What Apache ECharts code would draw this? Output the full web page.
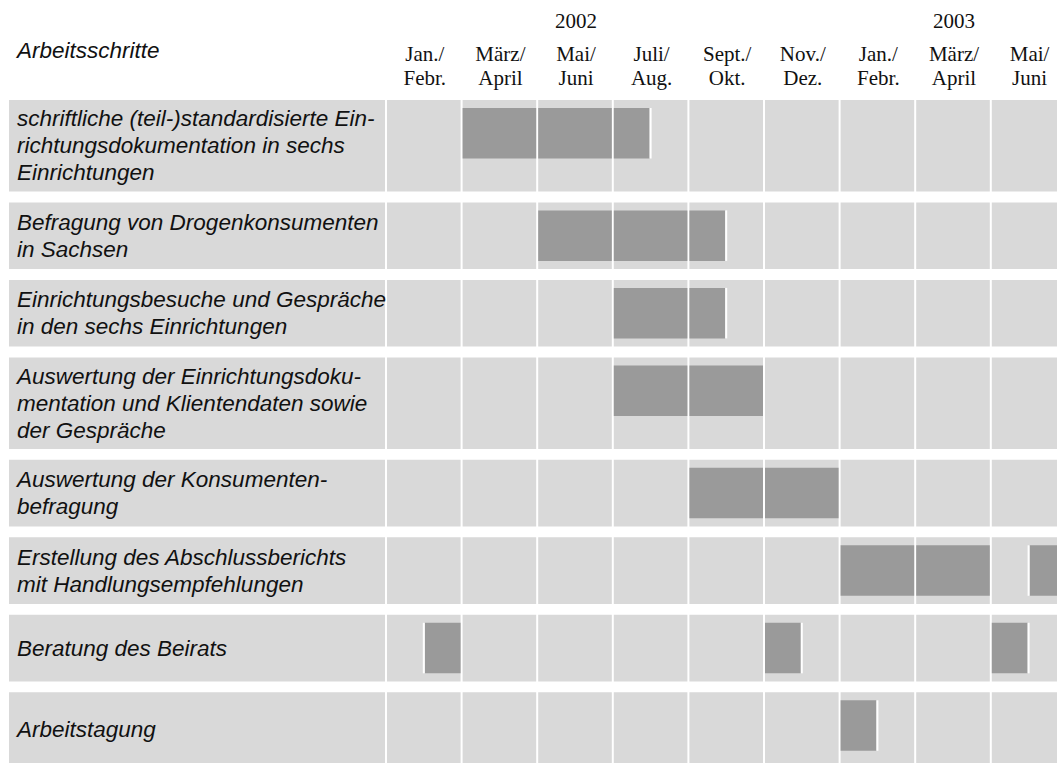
<!DOCTYPE html>
<html>
<head>
<meta charset="utf-8">
<script src="https://cdn.jsdelivr.net/npm/echarts@6/dist/echarts.min.js"></script>
<style>
html,body{margin:0;padding:0;background:#ffffff;}
#chart{width:1057px;height:763px;}
</style>
</head>
<body>
<div id="chart"></div>
<script>
// ---------- data ----------
const tasks = [
  'schriftliche (teil-)standardisierte Ein-\nrichtungsdokumentation in sechs\nEinrichtungen',
  'Befragung von Drogenkonsumenten\nin Sachsen',
  'Einrichtungsbesuche und Gespräche\nin den sechs Einrichtungen',
  'Auswertung der Einrichtungsdoku-\nmentation und Klientendaten sowie\nder Gespräche',
  'Auswertung der Konsumenten-\nbefragung',
  'Erstellung des Abschlussberichts\nmit Handlungsempfehlungen',
  'Beratung des Beirats',
  'Arbeitstagung'
];
const periods = [
  'Jan./\nFebr.', 'März/\nApril', 'Mai/\nJuni', 'Juli/\nAug.', 'Sept./\nOkt.',
  'Nov./\nDez.', 'Jan./\nFebr.', 'März/\nApril', 'Mai/\nJuni'
];
const years = ['', '', '2002', '', '', '', '', '2003', ''];
const headerTitle = 'Arbeitsschritte';

// phases: task index, start and end measured in two-month periods from Jan. 2002
const phaseTask  = [0,   1,   2,   3, 4, 5, 5,   6,   6,   6,   7];
const phaseStart = [1,   2,   3,   3, 4, 6, 8.5, 0.5, 5,   8,   6];
const phaseEnd   = [3.5, 4.5, 4.5, 5, 6, 8, 9,   1,   5.5, 8.5, 6.5];

// ---------- layout / style ----------
const ROW_H = [91.6, 66.7, 66.7, 91.6, 66.7, 66.7, 66.7, 74];
const ROW_GAP = 10.8;
const ROW_TOP = [];
(function(){ let y = 0; ROW_H.forEach(function(h){ ROW_TOP.push(y); y += h + ROW_GAP; }); })();
const CELL = '#d9d9d9';
const BAR = '#9a9a9a';
const TEXT = '#111111';
const SANS = '"Liberation Sans", Arial, sans-serif';
const SERIF = '"Liberation Serif", "Times New Roman", serif';
const BAR_OFF = 8, BAR_H = 50.5, VGAP = 2;

const chart = echarts.init(document.getElementById('chart'), null, {renderer: 'svg'});

const cellData = [];
tasks.forEach(function(t, r){ periods.forEach(function(p, c){ cellData.push([c, r]); }); });
const labelData = tasks.map(function(t, i){ return [0, i]; });
const phaseData = phaseTask.map(function(t, i){ return [phaseStart[i], phaseEnd[i], t]; });

function rowY(api, r){
  const y0 = api.coord([0, ROW_TOP[r]])[1];
  const y1 = api.coord([0, ROW_TOP[r] + ROW_H[r]])[1];
  return [y0, y1];
}

const option = {
  backgroundColor: '#ffffff',
  animation: false,
  title: {
    text: headerTitle, left: 17, top: 36.5, padding: 0,
    textStyle: {fontFamily: SANS, fontStyle: 'italic', fontWeight: 'normal', fontSize: 22.5, lineHeight: 27, color: TEXT}
  },
  grid: {left: 387, top: 100, width: 9 * 75.6, height: 700, containLabel: false, outerBoundsMode: 'none'},
  xAxis: [
    {type: 'value', min: 0, max: 9, show: false},
    {
      type: 'category', position: 'top', data: periods.map(function(p, i){ return String(i); }),
      axisLine: {show: false}, axisTick: {show: false}, splitLine: {show: false},
      axisLabel: {interval: 0, margin: 10, formatter: function(v, i){ return periods[i]; },
        fontFamily: SERIF, fontSize: 21, lineHeight: 24, color: TEXT}
    },
    {
      type: 'category', position: 'top', offset: 57, data: years.map(function(p, i){ return String(i); }),
      axisLine: {show: false}, axisTick: {show: false}, splitLine: {show: false},
      axisLabel: {interval: 0, margin: 10, formatter: function(v, i){ return years[i]; },
        fontFamily: SERIF, fontSize: 21, lineHeight: 24, color: TEXT}
    }
  ],
  yAxis: {type: 'value', inverse: true, min: 0, max: 700, show: false},
  series: [
    {
      type: 'custom', xAxisIndex: 0, yAxisIndex: 0, clip: false, silent: true,
      data: labelData, encode: {x: 0, y: 1},
      renderItem: function(params, api){
        const r = api.value(1);
        const ys = rowY(api, r);
        const x0 = api.coord([0, 0])[0];
        return {type: 'group', children: [
          {type: 'rect', shape: {x: x0 - 378, y: ys[0], width: 376, height: ys[1] - ys[0]}, style: {fill: CELL}},
          {type: 'text', x: x0 - 370, y: (ys[0] + ys[1]) / 2,
            style: {text: tasks[r], fontFamily: SANS, fontStyle: 'italic', fontSize: 22.5, lineHeight: 27,
              fill: TEXT, align: 'left', verticalAlign: 'middle'}}
        ]};
      }
    },
    {
      type: 'custom', xAxisIndex: 0, yAxisIndex: 0, clip: false, silent: true,
      data: cellData, encode: {x: 0, y: 1},
      renderItem: function(params, api){
        const c = api.value(0), r = api.value(1);
        const ys = rowY(api, r);
        const xa = api.coord([c, 0])[0], xb = api.coord([c + 1, 0])[0] - VGAP;
        return {type: 'rect', shape: {x: xa, y: ys[0], width: xb - xa, height: ys[1] - ys[0]}, style: {fill: CELL}};
      }
    },
    {
      type: 'custom', xAxisIndex: 0, yAxisIndex: 0, clip: false, silent: true,
      data: phaseData, encode: {x: [0, 1]},
      renderItem: function(params, api){
        const s = api.value(0), e = api.value(1), r = api.value(2);
        const ys = rowY(api, r);
        const yt = ys[0] + BAR_OFF;
        const children = [];
        for (let c = Math.floor(s); c < Math.ceil(e); c++) {
          const ps = Math.max(s, c), pe = Math.min(e, c + 1);
          const xa = api.coord([ps, 0])[0], xb = api.coord([pe, 0])[0] - VGAP;
          children.push({type: 'rect', shape: {x: xa, y: yt, width: xb - xa, height: BAR_H}, style: {fill: BAR}});
        }
        if (s % 1 !== 0) {
          const xs = api.coord([s, 0])[0];
          children.push({type: 'rect', shape: {x: xs - VGAP, y: yt, width: VGAP, height: BAR_H}, style: {fill: '#ffffff'}});
        }
        if (e % 1 !== 0) {
          const xe = api.coord([e, 0])[0];
          children.push({type: 'rect', shape: {x: xe - VGAP, y: yt, width: VGAP, height: BAR_H}, style: {fill: '#ffffff'}});
        }
        return {type: 'group', children: children};
      }
    }
  ]
};
chart.setOption(option);
</script>
</body>
</html>
